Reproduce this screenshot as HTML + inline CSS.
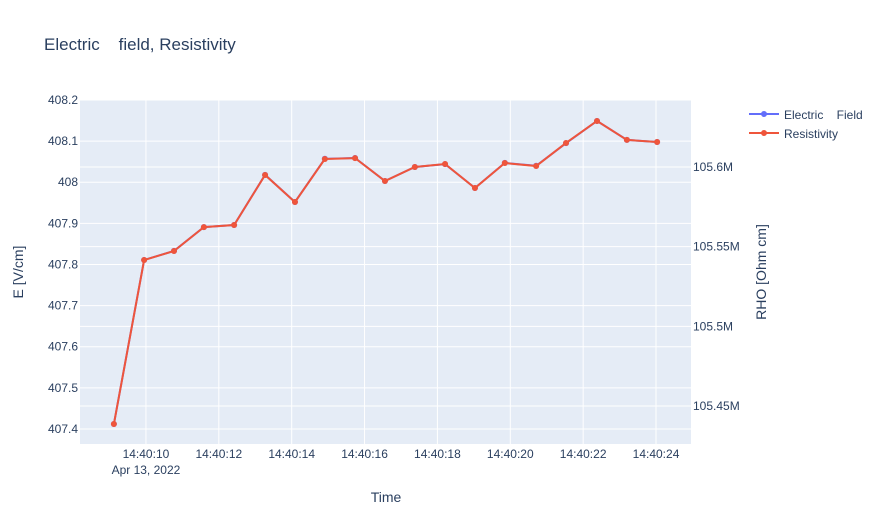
<!DOCTYPE html>
<html><head><meta charset="utf-8"><style>
body{margin:0;background:#fff;}
svg{font-family:"Liberation Sans",Arial,sans-serif;}
</style></head><body>
<svg id="chart" width="880" height="525">
<rect x="80" y="100" width="611" height="344" fill="#e5ecf6"/>
<g id="grid"></g><g id="series"></g><g id="ticks"></g>
<text x="44" y="50" font-size="17" fill="#2a3f5f" xml:space="preserve" style="white-space:pre">Electric    field, Resistivity</text>
<text x="386" y="502" font-size="14" fill="#2a3f5f" text-anchor="middle">Time</text>
<text transform="translate(23,272) rotate(-90)" font-size="14" fill="#2a3f5f" text-anchor="middle">E [V/cm]</text>
<text transform="translate(766,272) rotate(-90)" font-size="14" fill="#2a3f5f" text-anchor="middle">RHO [Ohm cm]</text>
<g>
<g>
<line x1="749" y1="114" x2="779" y2="114" stroke="#636efa" stroke-width="2"/><circle cx="764" cy="114" r="3" fill="#636efa"/>
<text x="784" y="119" font-size="12" fill="#2a3f5f" xml:space="preserve" style="white-space:pre">Electric    Field</text></g>
<g>
<line x1="749" y1="133" x2="779" y2="133" stroke="#ef553b" stroke-width="2"/><circle cx="764" cy="133" r="3" fill="#ef553b"/>
<text x="784" y="138" font-size="12" fill="#2a3f5f">Resistivity</text></g>
</g>
</svg>
<script>
const times=[9.12,9.95,10.77,11.59,12.42,13.27,14.09,14.91,15.74,16.56,17.38,18.21,19.03,19.85,20.71,21.53,22.38,23.2,24.03];
const eValues=[407.412,407.811,407.833,407.891,407.896,408.018,407.952,408.057,408.059,408.003,408.037,408.044,407.986,408.047,408.040,408.095,408.149,408.103,408.098];
const rhoValues=[105.4387,105.5416,105.5473,105.5623,105.5636,105.595,105.578,105.605,105.6056,105.5912,105.6,105.6019,105.5868,105.6025,105.6006,105.6151,105.6289,105.617,105.6157];
const xTicks=[10,12,14,16,18,20,22,24];
const yTicks=[407.4,407.5,407.6,407.7,407.8,407.9,408,408.1,408.2];
const y2Ticks=[105.45,105.5,105.55,105.6];
const NS="http://www.w3.org/2000/svg";
const X0=80,X1=691,Y0=444,Y1=100;
const xs=t=>X0+(t-8.19)/(24.96-8.19)*(X1-X0);
const ys=v=>Y0-(v-407.3635)/(408.2-407.3635)*(Y0-Y1);
const y2s=v=>Y0-(v-105.42616)/(105.64205-105.42616)*(Y0-Y1);
function mk(tag,a,p){const e=document.createElementNS(NS,tag);for(const k in a)e.setAttribute(k,a[k]);p.appendChild(e);return e;}
const grid=document.getElementById('grid'),tk=document.getElementById('ticks'),ser=document.getElementById('series');
xTicks.forEach(t=>{const x=xs(t);
 const g=mk('line',{x1:x,x2:x,y1:Y1,y2:Y0,stroke:'#fff','stroke-width':1},grid);
 
 
 const l=mk('text',{x:x,y:458,'font-size':12,fill:'#2a3f5f','text-anchor':'middle'},tk);
 l.textContent='14:40:'+String(t).padStart(2,'0');
 
 
 if(t===10){const d=mk('text',{x:x,y:474,'font-size':12,fill:'#2a3f5f','text-anchor':'middle'},tk);d.textContent='Apr 13, 2022';
 
 }
});
yTicks.forEach(v=>{const y=ys(v);
 const g=mk('line',{x1:X0,x2:X1,y1:y,y2:y,stroke:'#fff','stroke-width':1},grid);
 
 
 const l=mk('text',{x:78,y:y+4,'font-size':12,fill:'#2a3f5f','text-anchor':'end'},tk);
 l.textContent=(Math.round(v*10)/10).toString();
 
 
});
y2Ticks.forEach(v=>{const y=y2s(v);
 const g=mk('line',{x1:X0,x2:X1,y1:y,y2:y,stroke:'#fff','stroke-width':1},grid);
 
 
 const l=mk('text',{x:693,y:y+4,'font-size':12,fill:'#2a3f5f'},tk);
 l.textContent=(Math.round(v*100)/100).toString()+'M';
 
 
});
function draw(vals,sc,color,name){
 const p=mk('polyline',{points:times.map((t,i)=>xs(t)+','+sc(vals[i])).join(' '),fill:'none',stroke:color,'stroke-width':2},ser);
 
 
 times.forEach((t,i)=>{const c=mk('circle',{cx:xs(t),cy:sc(vals[i]),r:3,fill:color},ser);
 
 });
}
draw(eValues,ys,'#636efa','electric-field');
draw(rhoValues,y2s,'#ef553b','resistivity');
</script>
</body></html>
